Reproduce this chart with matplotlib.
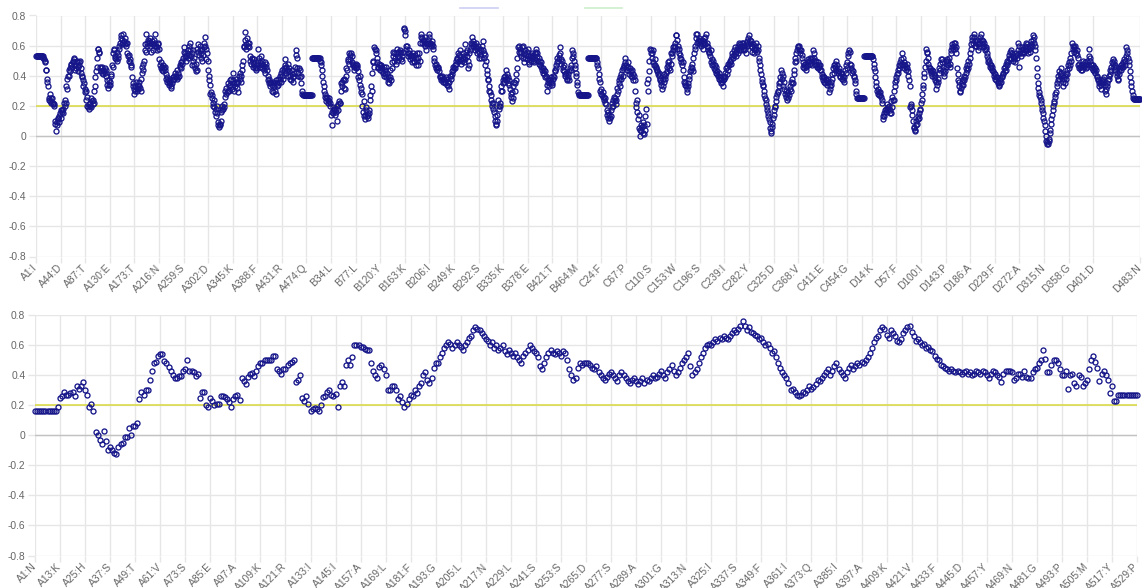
import matplotlib
matplotlib.use("Agg")
import matplotlib.pyplot as plt
from matplotlib.lines import Line2D

plt.rcParams['font.family'] = ['Liberation Sans', 'DejaVu Sans']

# ---------------- data: top panel (4 chains x 483 residues) ----------------
chain_a = [
    .53, .53, .53, .53, .53, .53, .53, .53, .53, .53, .53, .53, .53, .52, .51, .50, .49, .44, .44, .38, .36, .33, .25,
    .24, .28, .23, .25, .22, .25, .22, .21, .20, .21, .10, .08, .03, .09, .07, .11, .12, .09, .13, .15,
    .17, .12, .16, .17, .15, .18, .22, .24, .20, .22, .33, .31, .38, .40, .40, .44, .45, .43, .47, .48, .46, .50,
    .49, .52, .51, .47, .44, .45, .50, .49, .46, .43, .47, .49, .50, .45, .42, .40, .39, .37, .33, .35, .31,
    .29, .30, .24, .26, .20, .19, .21, .18, .20, .22, .19, .25, .23, .21, .24, .22, .30, .33, .39, .43, .46, .52,
    .58, .58, .56, .55, .46, .45, .43, .42, .46, .44, .41, .43, .45, .42, .44, .40, .37, .34, .32, .34, .37,
    .34, .36, .40, .41, .47, .46, .55, .58, .57, .53, .52, .51, .56, .50, .52, .54, .60, .58, .62, .67, .65, .61,
    .64, .62, .68, .63, .61, .65, .62, .60, .62, .55, .53, .50, .54, .49, .51, .46, .47, .39, .35, .33, .31,
    .28, .33, .30, .36, .32, .30, .34, .31, .33, .36, .32, .30, .38, .42, .46, .44, .48, .50, .57, .61, .68, .56,
    .60, .62, .64, .62, .63, .60, .65, .62, .56, .63, .61, .57, .60, .64, .68, .62, .60, .57, .59, .62, .61,
    .58, .51, .47, .45, .49, .46, .44, .47, .43, .45, .46, .44, .41, .38, .36, .39, .37, .35, .34, .38, .36, .33,
    .32, .35, .39, .37, .40, .38, .42, .39, .40, .44, .38, .39, .42, .40, .46, .47, .45, .49, .50, .48, .52,
    .56, .59, .53, .55, .50, .53, .55, .52, .57, .54, .60, .62, .58, .53, .55, .47, .50, .57, .52, .47, .45, .43,
    .48, .44, .58, .61, .56, .54, .60, .57, .55, .52, .58, .50, .54, .59, .62, .66, .60, .58, .51, .55, .50,
    .44, .40, .37, .34, .28, .29, .27, .25, .22, .20, .24, .19, .16, .18, .13, .20, .15, .09, .07, .06, .08, .07,
    .10, .16, .17, .20, .18, .21, .19, .26, .30, .28, .32, .29, .30, .35, .33, .30, .37, .34, .38, .31, .33,
    .37, .42, .35, .30, .33, .36, .38, .32, .35, .29, .36, .40, .38, .42, .36, .40, .44, .47, .50, .59, .60, .69,
    .64, .58, .61, .65, .62, .60, .59, .62, .50, .53, .48, .52, .51, .49, .46, .51, .47, .45, .44, .46, .48,
    .45, .50, .58, .52, .46, .49, .53, .48, .45, .50, .47, .44, .46, .49, .42, .46, .48, .44, .40, .37, .35, .38,
    .36, .33, .35, .30, .34, .36, .29, .33, .35, .30, .37, .28, .33, .35, .38, .34, .36, .40, .38, .36, .42,
    .40, .44, .38, .45, .43, .47, .51, .46, .42, .44, .40, .48, .43, .45, .38, .40, .37, .41, .44, .39, .36, .42,
    .40, .46, .54, .57, .52, .45, .42, .40, .45, .44, .39, .35, .40, .30, .28, .27, .27,
    .27, .27, .27, .27, .27, .27, .27, .27, .27, .27, .27, .27, .27, .27,
]

chain_b = [
    .52, .52, .52, .52, .52, .52, .52, .52, .52, .52, .52, .52, .52, .52, .50, .49, .47, .44, .40, .36, .33, .30,
    .28, .26, .25,
    .23, .26, .24, .22, .25, .23, .22, .20, .14, .07, .16, .19, .15, .18, .17, .14, .16, .18, .20, .10, .17, .21,
    .23, .22, .22, .30, .35, .33, .36, .37, .32, .38, .31, .37, .40, .45, .44, .50, .51, .48, .55, .54, .51, .55,
    .49, .53, .48, .47, .46, .44, .47, .48, .45, .47, .46, .43, .39, .37, .40, .34, .29, .32, .28, .20, .16, .23,
    .13, .11, .14, .17, .19, .13, .14, .12, .15, .17, .27, .24, .33, .30, .42, .50, .49, .46, .59, .58, .57, .55,
    .52, .49, .46, .45, .48, .47, .44, .46, .47, .43, .45, .42, .40, .46, .44, .41, .46, .39, .42, .36, .40, .38,
    .35, .39, .44, .37, .45, .49, .56, .53, .50, .55, .52, .48, .55, .58, .50, .53, .56, .52,
    .56, .57, .55, .51, .53, .50, .56, .72, .71, .70, .67, .60, .58, .60, .55, .53, .57, .55, .53, .51, .54, .49,
    .52, .55, .53, .50, .49, .54, .47, .52, .55, .50, .47, .52, .55, .50, .62, .68, .66, .62, .65, .64, .61, .63,
    .60, .66, .62, .57, .61, .64, .62, .68, .66, .61, .62, .60, .63, .61, .60, .58, .52, .50, .47, .45, .48, .46,
    .44, .46, .45, .43, .40, .39, .37, .39, .38, .40, .36, .37, .38, .35, .36, .39, .38, .34, .35, .33, .31, .36,
    .40, .38, .40, .41, .43, .44, .46, .45, .47, .45, .50, .48, .52, .51, .55, .54, .50, .57, .53, .51, .48, .50,
    .52, .55, .53, .49, .51, .61, .56, .53, .57, .45, .50, .47, .55, .57, .62, .59, .61, .66, .60, .63, .61, .59,
    .57, .59, .62, .58, .55, .60, .52, .56, .58, .54, .57, .52, .60, .63, .57, .55, .52, .54, .47, .50, .44, .41,
    .38, .37, .33, .30, .29, .27, .24, .22, .20, .18, .22, .16, .13, .10, .07, .08, .10, .14, .24, .20, .18, .22,
    .20, .30, .33, .30, .35, .37, .39, .36, .40, .38, .44, .41, .38, .35, .39, .37, .34, .31, .28, .26, .29, .23,
    .25, .33, .36, .30, .35, .37, .41, .45, .52, .59, .56, .60, .55, .58, .53, .56, .59, .60, .52, .49, .55, .57,
    .52, .54, .51, .56, .58, .53, .49, .48, .53, .50, .54, .52, .55, .50, .53, .49, .55, .51, .58, .56, .53, .55,
    .50, .48, .52, .50, .47, .49, .46, .44, .45, .42, .44, .41, .43, .39, .40, .30, .34, .36, .38, .35, .33, .37,
    .36, .39, .34, .35, .38, .40, .39, .43, .44, .47, .45, .49, .52, .50, .54, .51, .59, .55, .51, .48, .50, .46,
    .44, .47, .43, .41, .40, .42, .38, .37, .39, .41, .37, .43, .45, .44, .47, .52, .57, .55, .53, .50, .47, .45,
    .42, .40, .36, .34, .29, .28, .27, .27, .27, .27,
    .27, .27, .27, .27, .27, .27, .27, .27, .27, .27, .27, .27,
]

chain_c = [
    .52, .52, .52, .52, .52, .52, .52, .52, .52, .52, .52, .52, .52, .52, .52,
    .49, .47, .45, .41, .38, .36, .30, .28, .31, .27, .26, .29, .24, .26, .22, .25, .21, .17, .14, .12, .16, .14,
    .10, .12, .17, .13, .19, .22, .20, .24, .26, .23, .25, .21, .24, .28, .32, .30, .35, .37, .33, .39, .41, .38,
    .44, .45, .40, .47, .46, .52, .49, .47, .44, .46, .49, .46, .43, .41, .45, .43, .40, .44, .39, .41, .37, .40,
    .37, .30, .22, .19, .24, .16, .11, .14, .05, .00, .04, .07, .03, .06, .02, .09, .07, .01, .04, .13, .18, .08,
    .35, .30, .38, .43, .50, .58, .55, .57, .55, .52, .57, .49, .47, .51, .47, .45, .46, .43, .44, .41, .40, .42,
    .38, .37, .34, .36, .31, .33, .38, .36, .41, .38, .40, .42, .46, .43, .49, .47, .50, .45, .44, .48, .55, .53,
    .55, .59, .57, .60, .59, .62, .67, .67, .64, .58, .60, .55, .58, .54, .52, .49, .51, .47, .49, .44, .39, .36,
    .34, .35, .33, .29, .31, .33, .35, .38, .40, .43, .46, .44, .45, .48, .43, .52, .55, .58, .60, .68, .65, .68,
    .62, .63, .65, .64, .63, .61, .62, .60, .64, .58, .62, .65, .63, .61, .66, .68, .62, .60, .57, .59, .56, .55,
    .53, .57, .49, .51, .47, .50, .48, .45, .47, .44, .46, .42, .43, .41, .40, .42, .38, .39, .37, .35, .38, .36,
    .33, .37, .40, .38, .42, .39, .45, .41, .46, .44, .48, .47, .50, .49, .51, .48, .53, .55, .52, .54, .57, .55,
    .59, .53, .56, .58, .55, .60, .57, .62, .59, .61, .57, .62, .60, .58, .62, .57, .60, .58, .55, .62, .60, .63,
    .61, .65, .67, .62, .64, .60, .63, .59, .56, .61, .58, .55, .57, .60, .62, .58, .56, .60, .57, .52, .50, .47,
    .44, .41, .38, .36, .34, .33, .30, .27, .25, .24, .21, .19, .17, .15, .13, .11, .09, .05, .03, .02, .06, .08,
    .12, .14, .17, .20, .19, .23, .26, .28, .30, .29, .33, .35,
    .39, .36, .44, .42, .38, .40, .33, .36, .31, .28, .30, .26, .24, .28, .25, .29, .27, .31, .33, .30, .36, .35,
    .38, .35, .41, .44, .49, .52, .55, .50, .57, .59, .60, .58, .60, .57, .55, .57, .54, .52, .49, .46, .47, .45,
    .48, .46, .44, .47, .49, .51, .47, .50, .52, .48, .51, .49, .47, .52, .57, .55, .52, .50, .48, .50, .47, .46,
    .49, .45, .47, .46, .44, .47, .44, .41, .39, .40, .37, .39, .36, .35, .37, .38, .36, .34, .38, .36, .29, .33,
    .31, .36, .34, .38, .41, .45, .42, .47, .48, .46, .50, .44, .47, .43, .42, .45, .43, .40, .39, .42, .38, .41,
    .37, .40, .36, .39, .44, .42, .47, .45, .49, .53, .55, .57, .56, .48, .45, .47, .44, .42, .43, .39, .40, .37,
    .35, .30, .28, .25, .25, .25, .25, .25, .25, .25, .25, .25, .25, .25, .25, .25,
]

chain_d = [
    .53, .53, .53, .53, .53, .53, .53, .53, .53, .53, .53, .53, .53, .53, .53,
    .51, .48, .45, .43, .39, .36, .33, .30, .28, .31, .27, .29, .27, .29, .26, .24, .22, .13, .11, .15, .13, .17,
    .16, .18, .17, .21, .19, .18, .20, .15, .17, .15, .23, .19, .26, .24, .24, .30, .36, .33, .39, .37, .41, .44,
    .42, .47, .45, .49, .47, .51, .48, .55, .52, .47, .49, .45, .47, .46, .44, .48, .45, .43, .40, .37, .33, .19,
    .21, .20, .17, .14, .10, .05, .06, .04, .03, .07, .10, .08, .11, .13, .15, .12, .17, .18, .22, .24, .28, .32,
    .34, .39, .42, .46, .50, .58, .56, .55, .52, .48, .46, .44, .45, .43, .42, .44, .40, .43, .41, .39, .40, .37,
    .36, .31, .34, .38, .36, .42, .45, .48, .44, .51, .49, .51, .46, .44, .42, .40, .43, .46, .50, .48, .51, .47,
    .50, .52, .48, .46, .55, .57, .59, .61, .58, .62, .60, .58, .62, .59, .55, .45, .41, .37, .36, .33, .30, .29,
    .32, .34, .36, .34, .38, .40, .37, .39, .42, .45, .44, .47, .45, .50, .48, .52, .55, .61, .58, .64, .66, .62,
    .68, .66, .60, .63, .62, .60, .64, .57, .61, .59, .62, .64, .66, .68, .64, .61, .63, .59, .62, .60, .57, .59,
    .58, .53, .55, .51, .49, .50, .48, .46, .47, .45, .44, .46, .43, .42, .40, .38, .41, .39, .37, .39, .36, .35,
    .34, .33, .35, .38, .36, .40, .39, .42, .41, .45, .43, .46, .44, .48, .47, .50, .49, .52, .54, .51, .56, .57,
    .52, .55, .53, .50, .52, .51, .49, .53, .55, .52, .54, .62, .57, .60, .46, .55, .53, .57, .55, .59, .56, .58,
    .55, .57, .60, .62, .59, .61, .57, .55, .58, .60, .56, .59, .61, .63, .60, .64, .67, .62, .66, .60, .57, .52,
    .45, .40, .35, .32, .29, .27, .26, .24, .22, .19, .17, .15, .12, .10, .07, .03, .00, -.03, -.05, -.04, -.05,
    -.03, -.02, .02, .04, .08, .11, .14, .17, .20, .23, .22, .26, .28, .29, .33, .35, .37, .40, .38, .43, .41,
    .45, .42, .38, .40, .36, .33, .38, .35, .40, .38, .42, .44, .41, .47, .45, .49, .47, .52, .50, .55, .62, .58,
    .60, .59, .56, .58, .60, .55, .57, .54, .52, .47, .45, .48, .46, .44, .47, .46, .44, .48, .50, .46, .49, .47,
    .45, .48, .46, .50, .47, .53, .58, .52, .50, .48, .47, .45, .47, .44, .46, .43, .45, .42, .44, .40, .39, .37,
    .38, .35, .33, .36, .31, .34, .37, .35, .38, .36, .39, .34, .30, .28, .31, .35, .33, .37, .40, .38, .41, .44,
    .43, .46, .49, .51, .48, .46, .50, .47, .44, .46, .42, .40, .38, .37, .41, .43, .45, .47, .44, .46, .48, .46,
    .49, .51, .47, .50, .53, .59, .57, .55, .52, .50, .47, .43, .39, .36, .33, .30, .27, .25,
    .245, .245, .245, .245, .245, .245, .245, .245, .245, .245, .245, .245,
]

top_values = chain_a + chain_b + chain_c + chain_d
chain_offsets = {'A': 0, 'B': 483, 'C': 966, 'D': 1449}

top_labels = ['A1:I', 'A44:D', 'A87:T', 'A130:E', 'A173:T', 'A216:N', 'A259:S', 'A302:D', 'A345:K',
              'A388:F', 'A431:R', 'A474:Q', 'B34:L', 'B77:L', 'B120:Y', 'B163:K', 'B206:I', 'B249:K',
              'B292:S', 'B335:K', 'B378:E', 'B421:T', 'B464:M', 'C24:F', 'C67:P', 'C110:S', 'C153:W',
              'C196:S', 'C239:I', 'C282:Y', 'C325:D', 'C368:V', 'C411:E', 'C454:G', 'D14:K', 'D57:F',
              'D100:I', 'D143:P', 'D186:A', 'D229:F', 'D272:A', 'D315:N', 'D358:G', 'D401:D', 'D483:N']

# ---------------- data: bottom panel (single chain, 529 residues) ----------------
bottom_values = [
    .16, .16, .16, .16, .16, .16, .16, .16, .16, .16, .16, .185,
    .25, .26, .285, .27, .27, .28, .285, .26, .33, .31, .33, .355,
    .30, .27, .185, .21, .16, .02, .00, -.03, -.06, .03, -.04, -.095,
    -.08, -.095, -.115, -.125, -.08, -.055, -.05, -.013, -.013, .045, .00, .06,
    .06, .08, .24, .285, .27, .30, .30, .37, .43, .48, .49, .53,
    .54, .54, .495, .48, .455, .43, .40, .38, .38, .395, .395, .43,
    .44, .50, .43, .43, .42, .395, .41, .25, .285, .285, .20, .19,
    .25, .23, .20, .21, .21, .26, .26, .255, .24, .22, .185, .24,
    .26, .27, .235, .38, .36, .34, .39, .41, .415, .395, .43, .46,
    .48, .48, .50, .50, .50, .50, .53, .53, .44, .43, .41, .44,
    .44, .465, .48, .49, .50, .355, .37, .40, .25, .225, .26, .21,
    .16, .175, .18, .175, .16, .20, .255, .26, .285, .30, .27, .26,
    .275, .19, .33, .355, .33, .465, .50, .47, .52, .60, .60, .60,
    .59, .585, .575, .57, .565, .48, .43, .40, .38, .455, .465, .44,
    .40, .30, .30, .33, .33, .30, .24,
    .26, .22, .19, .21, .24, .27, .26, .30, .28, .33, .35, .40, .42, .37, .35, .38, .45, .48,
    .48, .52, .55, .58, .60, .62, .61, .58, .60, .62, .60, .59,
    .57, .60, .62, .65, .66, .70, .72, .71, .70, .68, .66, .64,
    .63, .60, .62, .58, .60, .57, .58, .60, .56, .54, .57, .55,
    .53, .55, .52, .50, .48, .53, .55, .57, .60, .58, .56, .55,
    .52, .46, .44, .48, .52, .55, .57, .55, .54, .56, .55, .53,
    .56, .55, .50, .44, .40, .37, .38, .45, .48, .47, .48, .48,
    .48, .47, .45, .44, .46, .42, .40, .38, .37, .39, .41, .42,
    .40, .38, .36, .40, .42, .40, .38, .36, .35, .37, .38, .36,
    .34, .36, .38, .35, .37, .36, .38, .40, .38, .39, .41, .43,
    .40, .38, .42, .44, .47, .43, .40, .42, .45, .48, .50, .52,
    .55, .46, .40, .42, .44, .48, .52, .55, .58, .60, .61, .60,
    .62, .64, .63, .65, .64, .66, .65, .64, .66, .68, .70, .69,
    .71, .73, .76, .73, .70, .72, .69, .68, .67, .66, .64, .65,
    .62, .60, .61, .58, .55, .56, .52, .48, .45, .42, .40, .38,
    .35, .30, .31, .29, .27, .26, .27, .29, .28, .30, .33, .31,
    .32, .34, .37, .36, .38, .40, .42, .44, .40, .43, .46, .48,
    .44, .42, .40, .38, .42, .45, .47, .44, .46, .48, .47, .49,
    .48, .50, .52, .55, .58, .62, .65, .66, .70, .72, .71, .67,
    .65, .70, .68, .66, .63, .62, .64, .68, .70, .72, .73, .69,
    .66, .63, .64, .62, .60, .61, .58, .59, .57, .56, .53, .51,
    .50, .47, .46, .45, .44, .43, .44, .43, .42, .43, .42, .41,
    .42, .43, .41, .42, .40, .41, .43, .42, .41, .43, .42, .40,
    .38, .41, .43, .42, .40, .39,
    .355, .41, .43, .43, .43, .42, .37, .38, .41, .41, .39, .43, .39, .38, .38, .42, .44, .45, .48, .50,
    .57, .51, .42, .42, .47, .50, .50, .48, .44, .40, .40, .43, .31, .40, .41, .35, .33, .40, .39, .33,
    .35, .37, .44, .50, .53, .49, .45, .36, .41, .43, .40, .37, .28, .33, .23, .23,
    .27, .27, .27, .27, .27, .27, .27, .27, .27, .27,
]

bottom_labels = ['A1:N', 'A13:K', 'A25:H', 'A37:S', 'A49:T', 'A61:V', 'A73:S', 'A85:E', 'A97:A',
                 'A109:K', 'A121:R', 'A133:I', 'A145:I', 'A157:A', 'A169:L', 'A181:F', 'A193:G',
                 'A205:L', 'A217:N', 'A229:L', 'A241:S', 'A253:S', 'A265:D', 'A277:S', 'A289:A',
                 'A301:G', 'A313:N', 'A325:I', 'A337:S', 'A349:F', 'A361:I', 'A373:Q', 'A385:I',
                 'A397:A', 'A409:K', 'A421:V', 'A433:F', 'A445:D', 'A457:Y', 'A469:N', 'A481:G',
                 'A493:P', 'A505:M', 'A517:Y', 'A529:P']

threshold = 0.2
y_ticks = [-0.8, -0.6, -0.4, -0.2, 0, 0.2, 0.4, 0.6, 0.8]
y_tick_labels = ['-0.8', '-0.6', '-0.4', '-0.2', '0', '0.2', '0.4', '0.6', '0.8']

for name, arr, n in [('a', chain_a, 483), ('b', chain_b, 483), ('c', chain_c, 483), ('d', chain_d, 483),
                     ('bottom', bottom_values, 529)]:
    if len(arr) != n:
        raise ValueError(f"{name} has {len(arr)} values, expected {n}")


def label_index(lbl, offsets):
    chain = lbl[0]
    num = int(lbl[1:].split(':')[0])
    return offsets[chain] + num - 1


# ---------------- drawing ----------------
W, H = 1142, 588
fig = plt.figure(figsize=(W / 100, H / 100), dpi=100)
fig.patch.set_facecolor('white')

GRID = '#e6e6e6'
ZERO = '#c2c2c2'
TXT = '#666666'
MARK = '#16168a'


def style_axis(ax, values, labels, offsets):
    x = list(range(len(values)))
    ax.axhline(threshold, color='#d9d93c', lw=1.1, zorder=2)
    ax.plot(x, values, linestyle='none', marker='o', ms=3.6, mfc='none', mec=MARK, mew=0.95,
            zorder=3, clip_on=False)
    ax.set_xlim(0, len(values) - 1)
    ax.set_ylim(-0.8, 0.8)
    ax.set_yticks(y_ticks)
    ax.set_yticklabels(y_tick_labels)
    ticks = [label_index(l, offsets) for l in labels]
    ax.set_xticks(ticks)
    ax.set_xticklabels(labels, rotation=45, ha='right', va='center', rotation_mode='anchor')
    ax.grid(True, color=GRID, lw=1.0, zorder=0)
    ax.axhline(0, color=ZERO, lw=1.0, zorder=1)
    for s in ax.spines.values():
        s.set_visible(False)
    ax.tick_params(axis='y', length=5, width=1, color=GRID, labelcolor=TXT, labelsize=7.4, pad=2)
    ax.tick_params(axis='x', length=4, width=1, color=GRID, labelcolor=TXT, labelsize=7.4, pad=3)
    ax.set_axisbelow(True)


ax1 = fig.add_axes([36 / W, 1 - 256.5 / H, (1140 - 36) / W, (256.5 - 15.5) / H])
style_axis(ax1, top_values, top_labels, chain_offsets)

ax2 = fig.add_axes([35 / W, 1 - 555.5 / H, (1137 - 35) / W, (555.5 - 315) / H])
style_axis(ax2, bottom_values, bottom_labels, {'A': 0})

# faint legend swatches at the top (no visible text)
fig.add_artist(Line2D([460 / W, 498 / W], [1 - 8 / H, 1 - 8 / H], color='#cdcdf2', lw=1.2))
fig.add_artist(Line2D([585 / W, 622 / W], [1 - 8 / H, 1 - 8 / H], color='#ccefcc', lw=1.2))

fig.savefig('out.png', dpi=100, facecolor='white')
